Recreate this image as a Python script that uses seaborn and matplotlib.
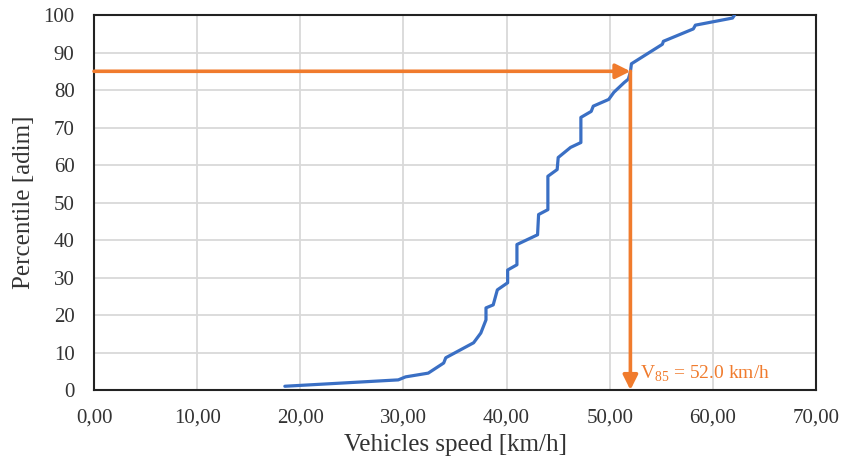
import matplotlib
matplotlib.use("Agg")
import matplotlib.pyplot as plt
import seaborn as sns
import pandas as pd

# Data
speed = [18.5, 29.5, 30.2, 32.4, 33.9, 34.1, 36.8, 37.5, 38.0, 38.0, 38.7, 39.1,
         40.1, 40.1, 41.0, 41.0, 43.0, 43.1, 44.0, 44.0, 44.9, 45.0, 46.2, 47.2,
         47.2, 48.2, 48.4, 49.9, 50.4, 51.4, 51.8, 52.0, 52.1, 55.1, 55.2, 58.1,
         58.3, 61.9, 62.1]
percentile = [1.0, 2.7, 3.5, 4.5, 7.2, 8.6, 12.6, 15.2, 18.7, 21.9, 22.7, 26.7,
              28.6, 32.0, 33.4, 38.8, 41.4, 46.8, 48.1, 57.0, 58.8, 62.0, 64.7, 66.0,
              72.7, 74.3, 75.7, 77.5, 79.4, 82.0, 82.9, 84.8, 87.0, 92.2, 93.0, 96.3,
              97.3, 99.2, 100.0]
v85_speed = 52.0
v85_pct = 85
x_ticks = [0, 10, 20, 30, 40, 50, 60, 70]
x_tick_labels = ["0,00", "10,00", "20,00", "30,00", "40,00", "50,00", "60,00", "70,00"]
y_ticks = [0, 10, 20, 30, 40, 50, 60, 70, 80, 90, 100]

df = pd.DataFrame({"speed": speed, "pct": percentile})

sns.set_style("white")
plt.rcParams["font.family"] = ["Liberation Serif", "DejaVu Serif"]
plt.rcParams["mathtext.fontset"] = "custom"
plt.rcParams["mathtext.rm"] = "Liberation Serif"

fig = plt.figure(figsize=(8.44, 4.70), dpi=100)
ax = fig.add_axes([0.1114, 0.1702, 0.8555, 0.7978])

blue = "#3A6FC4"
orange = "#F07B2D"

sns.lineplot(data=df, x="speed", y="pct", ax=ax, estimator=None, sort=False,
             color=blue, lw=2.3, zorder=3)

ax.set_xlim(0, 70)
ax.set_ylim(0, 100)
ax.set_xticks(x_ticks)
ax.set_xticklabels(x_tick_labels)
ax.set_yticks(y_ticks)
ax.grid(True, color="#D9D9D9", lw=1.3)
ax.set_axisbelow(True)
for s in ax.spines.values():
    s.set_visible(True)
    s.set_color("#222222")
    s.set_linewidth(1.5)
ax.tick_params(axis="both", labelsize=15, length=0, colors="#333333")
ax.tick_params(axis="x", pad=13)
ax.tick_params(axis="y", pad=14)
ax.set_xlabel("Vehicles speed [km/h]", fontsize=18, color="#333333", labelpad=5)
ax.set_ylabel("Percentile [adim]", fontsize=18, color="#333333", labelpad=6)

arrow_kw = dict(arrowstyle="-|>", color=orange, lw=2.6, mutation_scale=22,
                shrinkA=0, shrinkB=0)
ax.annotate("", xy=(v85_speed, v85_pct), xytext=(0, v85_pct),
            arrowprops=arrow_kw, zorder=4)
ax.annotate("", xy=(v85_speed, 0), xytext=(v85_speed, v85_pct),
            arrowprops=arrow_kw, zorder=4)
ax.text(v85_speed + 0.9, 4.2, "V$_{85}$ = 52.0 km/h", color=orange, fontsize=14,
        ha="left", va="center")

fig.savefig("out.png", dpi=100)
